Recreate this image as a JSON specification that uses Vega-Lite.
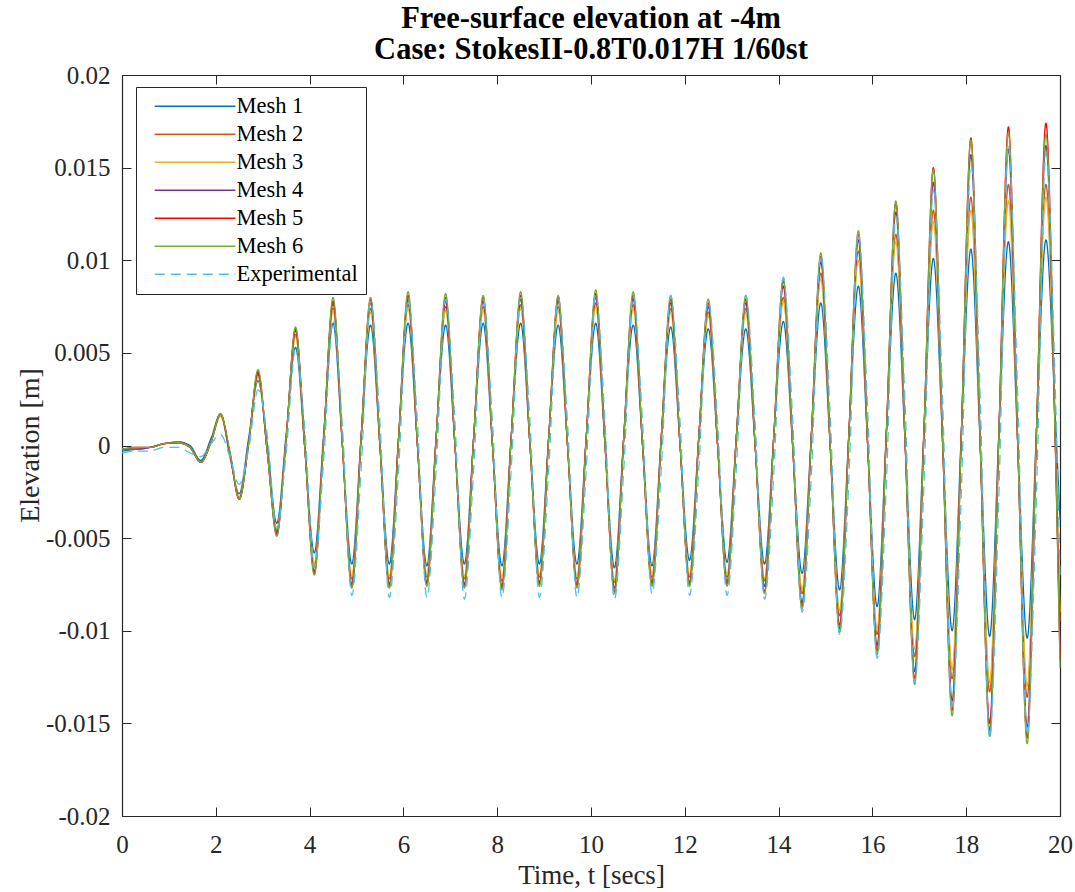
{
"$schema": "https://vega.github.io/schema/vega-lite/v6.json",
"width": 938, "height": 741,
"autosize": {"type": "none"},
"padding": {"left": 122, "top": 75, "right": 15, "bottom": 76},
"background": "white",
"config": {"view": {"stroke": null}, "font": "Liberation Serif"},
"title": {"text": ["Free-surface elevation at -4m", "Case: StokesII-0.8T0.017H 1/60st"], "font": "Liberation Serif", "fontSize": 30.5, "fontWeight": "bold", "anchor": "middle", "color": "black", "lineHeight": 31, "offset": -2},
"data": {"values": [
{"t":0,"Mesh 1":-0.0003,"Mesh 2":-0.0002,"Mesh 3":-0.0002,"Mesh 4":-0.0002,"Mesh 5":-0.0002,"Mesh 6":-0.0002,"Experimental":-0.0004},
{"t":0.3,"Mesh 1":-0.0002,"Mesh 2":-0.0002,"Mesh 3":-0.0002,"Mesh 4":-0.0002,"Mesh 5":-0.0001,"Mesh 6":-0.0001,"Experimental":-0.0003},
{"t":0.6,"Mesh 1":-0.0001,"Mesh 2":-0.0001,"Mesh 3":-0.0001,"Mesh 4":-0.0001,"Mesh 5":-0.0001,"Mesh 6":-0.0001,"Experimental":-0.0003},
{"t":0.9,"Mesh 1":0.0001,"Mesh 2":0.0001,"Mesh 3":0.0001,"Mesh 4":0.0001,"Mesh 5":0.0001,"Mesh 6":0.0001,"Experimental":-0.0001},
{"t":1.2,"Mesh 1":0.0002,"Mesh 2":0.00015,"Mesh 3":0.00015,"Mesh 4":0.00015,"Mesh 5":0.00015,"Mesh 6":0.00015,"Experimental":-0.0001},
{"t":1.45,"Mesh 1":0.0,"Mesh 2":-0.0001,"Mesh 3":-0.0001,"Mesh 4":-0.0001,"Mesh 5":-0.0001,"Mesh 6":-0.0001,"Experimental":-0.0004},
{"t":1.68,"Mesh 1":-0.0008,"Mesh 2":-0.0009,"Mesh 3":-0.0009,"Mesh 4":-0.0009,"Mesh 5":-0.0009,"Mesh 6":-0.0009,"Experimental":-0.0006},
{"t":1.9,"Mesh 1":0.0004,"Mesh 2":0.0002,"Mesh 3":0.0002,"Mesh 4":0.0002,"Mesh 5":0.0002,"Mesh 6":0.0002,"Experimental":0.0001},
{"t":2.1,"Mesh 1":0.0017,"Mesh 2":0.0016,"Mesh 3":0.0016,"Mesh 4":0.0017,"Mesh 5":0.0017,"Mesh 6":0.0017,"Experimental":0.0006},
{"t":2.3,"Mesh 1":-0.0006,"Mesh 2":-0.0004,"Mesh 3":-0.0004,"Mesh 4":-0.0004,"Mesh 5":-0.0004,"Mesh 6":-0.0003,"Experimental":-0.0006},
{"t":2.5,"Mesh 1":-0.0026,"Mesh 2":-0.0028,"Mesh 3":-0.0028,"Mesh 4":-0.0029,"Mesh 5":-0.0029,"Mesh 6":-0.0029,"Experimental":-0.0021},
{"t":2.7,"Mesh 1":0.0004,"Mesh 2":0.0001,"Mesh 3":0.0001,"Mesh 4":0.0001,"Mesh 5":0.0001,"Mesh 6":0.0001,"Experimental":-0.0002},
{"t":2.9,"Mesh 1":0.0035,"Mesh 2":0.0038,"Mesh 3":0.0037,"Mesh 4":0.0039,"Mesh 5":0.004,"Mesh 6":0.0041,"Experimental":0.003},
{"t":3.1,"Mesh 1":0.0,"Mesh 2":-0.0004,"Mesh 3":-0.0004,"Mesh 4":-0.0004,"Mesh 5":-0.0004,"Mesh 6":-0.0004,"Experimental":0.0005},
{"t":3.3,"Mesh 1":-0.0042,"Mesh 2":-0.0046,"Mesh 3":-0.0045,"Mesh 4":-0.0047,"Mesh 5":-0.0048,"Mesh 6":-0.0049,"Experimental":-0.0045},
{"t":3.5,"Mesh 1":0.0006,"Mesh 2":0.0004,"Mesh 3":0.0004,"Mesh 4":0.0004,"Mesh 5":0.0004,"Mesh 6":0.0004,"Experimental":-0.0004},
{"t":3.7,"Mesh 1":0.0053,"Mesh 2":0.006,"Mesh 3":0.0059,"Mesh 4":0.0062,"Mesh 5":0.0063,"Mesh 6":0.0064,"Experimental":0.0052},
{"t":3.9,"Mesh 1":-0.0002,"Mesh 2":-0.0002,"Mesh 3":-0.0002,"Mesh 4":-0.0002,"Mesh 5":-0.0002,"Mesh 6":-0.0002,"Experimental":0.0008},
{"t":4.1,"Mesh 1":-0.0058,"Mesh 2":-0.0065,"Mesh 3":-0.0064,"Mesh 4":-0.0068,"Mesh 5":-0.0069,"Mesh 6":-0.007,"Experimental":-0.0066},
{"t":4.3,"Mesh 1":0.0006,"Mesh 2":0.0004,"Mesh 3":0.0004,"Mesh 4":0.0004,"Mesh 5":0.0004,"Mesh 6":0.0004,"Experimental":-0.0008},
{"t":4.5,"Mesh 1":0.0066,"Mesh 2":0.0074,"Mesh 3":0.0073,"Mesh 4":0.0077,"Mesh 5":0.0078,"Mesh 6":0.008,"Experimental":0.0068},
{"t":4.7,"Mesh 1":0.0,"Mesh 2":0.0,"Mesh 3":0.0,"Mesh 4":0.0,"Mesh 5":0.0,"Mesh 6":0.0,"Experimental":0.001},
{"t":4.9,"Mesh 1":-0.0064,"Mesh 2":-0.0072,"Mesh 3":-0.0071,"Mesh 4":-0.0075,"Mesh 5":-0.0076,"Mesh 6":-0.0077,"Experimental":-0.0081},
{"t":5.1,"Mesh 1":0.0005,"Mesh 2":0.0005,"Mesh 3":0.0005,"Mesh 4":0.0005,"Mesh 5":0.0005,"Mesh 6":0.0005,"Experimental":-0.0012},
{"t":5.3,"Mesh 1":0.0065,"Mesh 2":0.0074,"Mesh 3":0.0072,"Mesh 4":0.0077,"Mesh 5":0.0079,"Mesh 6":0.008,"Experimental":0.0078},
{"t":5.5,"Mesh 1":0.0,"Mesh 2":0.0,"Mesh 3":0.0,"Mesh 4":0.0,"Mesh 5":0.0,"Mesh 6":0.0,"Experimental":0.0012},
{"t":5.7,"Mesh 1":-0.0064,"Mesh 2":-0.0072,"Mesh 3":-0.0071,"Mesh 4":-0.0075,"Mesh 5":-0.0076,"Mesh 6":-0.0077,"Experimental":-0.0082},
{"t":5.9,"Mesh 1":0.0005,"Mesh 2":0.0005,"Mesh 3":0.0005,"Mesh 4":0.0005,"Mesh 5":0.0005,"Mesh 6":0.0005,"Experimental":-0.0012},
{"t":6.1,"Mesh 1":0.0066,"Mesh 2":0.0076,"Mesh 3":0.0074,"Mesh 4":0.0079,"Mesh 5":0.0081,"Mesh 6":0.0083,"Experimental":0.0079},
{"t":6.3,"Mesh 1":0.0,"Mesh 2":0.0,"Mesh 3":0.0,"Mesh 4":0.0,"Mesh 5":0.0,"Mesh 6":0.0,"Experimental":0.0012},
{"t":6.5,"Mesh 1":-0.0065,"Mesh 2":-0.0071,"Mesh 3":-0.007,"Mesh 4":-0.0074,"Mesh 5":-0.0075,"Mesh 6":-0.0076,"Experimental":-0.0082},
{"t":6.7,"Mesh 1":0.0005,"Mesh 2":0.0005,"Mesh 3":0.0005,"Mesh 4":0.0005,"Mesh 5":0.0005,"Mesh 6":0.0005,"Experimental":-0.0012},
{"t":6.9,"Mesh 1":0.0065,"Mesh 2":0.0075,"Mesh 3":0.0073,"Mesh 4":0.0078,"Mesh 5":0.008,"Mesh 6":0.0082,"Experimental":0.0079},
{"t":7.1,"Mesh 1":0.0,"Mesh 2":0.0,"Mesh 3":0.0,"Mesh 4":0.0,"Mesh 5":0.0,"Mesh 6":0.0,"Experimental":0.0012},
{"t":7.3,"Mesh 1":-0.0064,"Mesh 2":-0.0072,"Mesh 3":-0.0071,"Mesh 4":-0.0075,"Mesh 5":-0.0076,"Mesh 6":-0.0077,"Experimental":-0.0083},
{"t":7.5,"Mesh 1":0.0005,"Mesh 2":0.0005,"Mesh 3":0.0005,"Mesh 4":0.0005,"Mesh 5":0.0005,"Mesh 6":0.0005,"Experimental":-0.0012},
{"t":7.7,"Mesh 1":0.0066,"Mesh 2":0.0075,"Mesh 3":0.0073,"Mesh 4":0.0078,"Mesh 5":0.008,"Mesh 6":0.0081,"Experimental":0.0079},
{"t":7.9,"Mesh 1":0.0,"Mesh 2":0.0,"Mesh 3":0.0,"Mesh 4":0.0,"Mesh 5":0.0,"Mesh 6":0.0,"Experimental":0.0012},
{"t":8.1,"Mesh 1":-0.0065,"Mesh 2":-0.0073,"Mesh 3":-0.0072,"Mesh 4":-0.0076,"Mesh 5":-0.0077,"Mesh 6":-0.0078,"Experimental":-0.0082},
{"t":8.3,"Mesh 1":0.0005,"Mesh 2":0.0005,"Mesh 3":0.0005,"Mesh 4":0.0005,"Mesh 5":0.0005,"Mesh 6":0.0005,"Experimental":-0.0012},
{"t":8.5,"Mesh 1":0.0066,"Mesh 2":0.0076,"Mesh 3":0.0074,"Mesh 4":0.0079,"Mesh 5":0.0081,"Mesh 6":0.0083,"Experimental":0.008},
{"t":8.7,"Mesh 1":0.0,"Mesh 2":0.0,"Mesh 3":0.0,"Mesh 4":0.0,"Mesh 5":0.0,"Mesh 6":0.0,"Experimental":0.0012},
{"t":8.9,"Mesh 1":-0.0064,"Mesh 2":-0.0071,"Mesh 3":-0.007,"Mesh 4":-0.0074,"Mesh 5":-0.0075,"Mesh 6":-0.0076,"Experimental":-0.0082},
{"t":9.1,"Mesh 1":0.0005,"Mesh 2":0.0005,"Mesh 3":0.0005,"Mesh 4":0.0005,"Mesh 5":0.0005,"Mesh 6":0.0005,"Experimental":-0.0012},
{"t":9.3,"Mesh 1":0.0065,"Mesh 2":0.0075,"Mesh 3":0.0073,"Mesh 4":0.0078,"Mesh 5":0.008,"Mesh 6":0.0081,"Experimental":0.0079},
{"t":9.5,"Mesh 1":0.0,"Mesh 2":0.0,"Mesh 3":0.0,"Mesh 4":0.0,"Mesh 5":0.0,"Mesh 6":0.0,"Experimental":0.0012},
{"t":9.7,"Mesh 1":-0.0064,"Mesh 2":-0.0072,"Mesh 3":-0.0071,"Mesh 4":-0.0075,"Mesh 5":-0.0076,"Mesh 6":-0.0077,"Experimental":-0.0082},
{"t":9.9,"Mesh 1":0.0005,"Mesh 2":0.0005,"Mesh 3":0.0005,"Mesh 4":0.0005,"Mesh 5":0.0005,"Mesh 6":0.0005,"Experimental":-0.0012},
{"t":10.1,"Mesh 1":0.0066,"Mesh 2":0.0077,"Mesh 3":0.0075,"Mesh 4":0.008,"Mesh 5":0.0082,"Mesh 6":0.0084,"Experimental":0.0082},
{"t":10.3,"Mesh 1":0.0,"Mesh 2":0.0,"Mesh 3":0.0,"Mesh 4":0.0,"Mesh 5":0.0,"Mesh 6":0.0,"Experimental":0.0012},
{"t":10.5,"Mesh 1":-0.0066,"Mesh 2":-0.0074,"Mesh 3":-0.0073,"Mesh 4":-0.0077,"Mesh 5":-0.0079,"Mesh 6":-0.008,"Experimental":-0.0083},
{"t":10.7,"Mesh 1":0.0005,"Mesh 2":0.0005,"Mesh 3":0.0005,"Mesh 4":0.0005,"Mesh 5":0.0005,"Mesh 6":0.0005,"Experimental":-0.0012},
{"t":10.9,"Mesh 1":0.0065,"Mesh 2":0.0076,"Mesh 3":0.0074,"Mesh 4":0.0079,"Mesh 5":0.0081,"Mesh 6":0.0083,"Experimental":0.0081},
{"t":11.1,"Mesh 1":0.0,"Mesh 2":0.0,"Mesh 3":0.0,"Mesh 4":0.0,"Mesh 5":0.0,"Mesh 6":0.0,"Experimental":0.0012},
{"t":11.3,"Mesh 1":-0.0065,"Mesh 2":-0.0071,"Mesh 3":-0.007,"Mesh 4":-0.0074,"Mesh 5":-0.0075,"Mesh 6":-0.0076,"Experimental":-0.008},
{"t":11.5,"Mesh 1":0.0005,"Mesh 2":0.0005,"Mesh 3":0.0005,"Mesh 4":0.0005,"Mesh 5":0.0005,"Mesh 6":0.0005,"Experimental":-0.0012},
{"t":11.7,"Mesh 1":0.0064,"Mesh 2":0.0074,"Mesh 3":0.0072,"Mesh 4":0.0077,"Mesh 5":0.0079,"Mesh 6":0.0081,"Experimental":0.0081},
{"t":11.9,"Mesh 1":0.0,"Mesh 2":0.0,"Mesh 3":0.0,"Mesh 4":0.0,"Mesh 5":0.0,"Mesh 6":0.0,"Experimental":0.0012},
{"t":12.1,"Mesh 1":-0.0062,"Mesh 2":-0.0071,"Mesh 3":-0.007,"Mesh 4":-0.0074,"Mesh 5":-0.0075,"Mesh 6":-0.0076,"Experimental":-0.0081},
{"t":12.3,"Mesh 1":0.0005,"Mesh 2":0.0005,"Mesh 3":0.0005,"Mesh 4":0.0005,"Mesh 5":0.0005,"Mesh 6":0.0005,"Experimental":-0.0012},
{"t":12.5,"Mesh 1":0.0063,"Mesh 2":0.0072,"Mesh 3":0.007,"Mesh 4":0.0075,"Mesh 5":0.0077,"Mesh 6":0.0079,"Experimental":0.0079},
{"t":12.7,"Mesh 1":0.0,"Mesh 2":0.0,"Mesh 3":0.0,"Mesh 4":0.0,"Mesh 5":0.0,"Mesh 6":0.0,"Experimental":0.0012},
{"t":12.9,"Mesh 1":-0.0063,"Mesh 2":-0.0071,"Mesh 3":-0.007,"Mesh 4":-0.0074,"Mesh 5":-0.0075,"Mesh 6":-0.0076,"Experimental":-0.0081},
{"t":13.1,"Mesh 1":0.0005,"Mesh 2":0.0005,"Mesh 3":0.0005,"Mesh 4":0.0005,"Mesh 5":0.0005,"Mesh 6":0.0005,"Experimental":-0.0012},
{"t":13.3,"Mesh 1":0.0063,"Mesh 2":0.0074,"Mesh 3":0.0072,"Mesh 4":0.0077,"Mesh 5":0.0079,"Mesh 6":0.0081,"Experimental":0.0081},
{"t":13.5,"Mesh 1":0.0,"Mesh 2":0.0,"Mesh 3":0.0,"Mesh 4":0.0,"Mesh 5":0.0,"Mesh 6":0.0,"Experimental":0.0012},
{"t":13.7,"Mesh 1":-0.0064,"Mesh 2":-0.0073,"Mesh 3":-0.0072,"Mesh 4":-0.0076,"Mesh 5":-0.0079,"Mesh 6":-0.008,"Experimental":-0.0083},
{"t":13.9,"Mesh 1":0.0006,"Mesh 2":0.0006,"Mesh 3":0.0006,"Mesh 4":0.0006,"Mesh 5":0.0006,"Mesh 6":0.0006,"Experimental":-0.0014},
{"t":14.1,"Mesh 1":0.0067,"Mesh 2":0.008,"Mesh 3":0.0078,"Mesh 4":0.0086,"Mesh 5":0.0089,"Mesh 6":0.009,"Experimental":0.0091},
{"t":14.3,"Mesh 1":0.0,"Mesh 2":0.0,"Mesh 3":0.0,"Mesh 4":0.0,"Mesh 5":0.0,"Mesh 6":0.0,"Experimental":0.0014},
{"t":14.5,"Mesh 1":-0.0069,"Mesh 2":-0.008,"Mesh 3":-0.0078,"Mesh 4":-0.0085,"Mesh 5":-0.0087,"Mesh 6":-0.0088,"Experimental":-0.009},
{"t":14.7,"Mesh 1":0.0006,"Mesh 2":0.0006,"Mesh 3":0.0006,"Mesh 4":0.0006,"Mesh 5":0.0006,"Mesh 6":0.0006,"Experimental":-0.0015},
{"t":14.9,"Mesh 1":0.0077,"Mesh 2":0.0093,"Mesh 3":0.009,"Mesh 4":0.0099,"Mesh 5":0.0102,"Mesh 6":0.0104,"Experimental":0.0103},
{"t":15.1,"Mesh 1":0.0,"Mesh 2":0.0,"Mesh 3":0.0,"Mesh 4":0.0,"Mesh 5":0.0,"Mesh 6":0.0,"Experimental":0.0016},
{"t":15.3,"Mesh 1":-0.0078,"Mesh 2":-0.0092,"Mesh 3":-0.0089,"Mesh 4":-0.0097,"Mesh 5":-0.0099,"Mesh 6":-0.0101,"Experimental":-0.0102},
{"t":15.5,"Mesh 1":0.0007,"Mesh 2":0.0007,"Mesh 3":0.0007,"Mesh 4":0.0007,"Mesh 5":0.0007,"Mesh 6":0.0007,"Experimental":-0.0017},
{"t":15.7,"Mesh 1":0.0086,"Mesh 2":0.0105,"Mesh 3":0.01,"Mesh 4":0.0111,"Mesh 5":0.0114,"Mesh 6":0.0116,"Experimental":0.0115},
{"t":15.9,"Mesh 1":0.0,"Mesh 2":0.0,"Mesh 3":0.0,"Mesh 4":0.0,"Mesh 5":0.0,"Mesh 6":0.0,"Experimental":0.0018},
{"t":16.1,"Mesh 1":-0.0087,"Mesh 2":-0.0102,"Mesh 3":-0.0099,"Mesh 4":-0.0108,"Mesh 5":-0.0111,"Mesh 6":-0.0113,"Experimental":-0.0115},
{"t":16.3,"Mesh 1":0.0008,"Mesh 2":0.0008,"Mesh 3":0.0008,"Mesh 4":0.0008,"Mesh 5":0.0008,"Mesh 6":0.0008,"Experimental":-0.0019},
{"t":16.5,"Mesh 1":0.0093,"Mesh 2":0.0114,"Mesh 3":0.011,"Mesh 4":0.0126,"Mesh 5":0.0131,"Mesh 6":0.0132,"Experimental":0.0124},
{"t":16.7,"Mesh 1":0.0,"Mesh 2":0.0,"Mesh 3":0.0,"Mesh 4":0.0,"Mesh 5":0.0,"Mesh 6":0.0,"Experimental":0.002},
{"t":16.9,"Mesh 1":-0.0094,"Mesh 2":-0.0114,"Mesh 3":-0.011,"Mesh 4":-0.0122,"Mesh 5":-0.0126,"Mesh 6":-0.0129,"Experimental":-0.0128},
{"t":17.1,"Mesh 1":0.0008,"Mesh 2":0.0008,"Mesh 3":0.0008,"Mesh 4":0.0008,"Mesh 5":0.0008,"Mesh 6":0.0008,"Experimental":-0.002},
{"t":17.3,"Mesh 1":0.0101,"Mesh 2":0.0127,"Mesh 3":0.0121,"Mesh 4":0.0142,"Mesh 5":0.015,"Mesh 6":0.0149,"Experimental":0.0138},
{"t":17.5,"Mesh 1":0.0,"Mesh 2":0.0,"Mesh 3":0.0,"Mesh 4":0.0,"Mesh 5":0.0,"Mesh 6":0.0,"Experimental":0.0022},
{"t":17.7,"Mesh 1":-0.01,"Mesh 2":-0.0126,"Mesh 3":-0.0121,"Mesh 4":-0.0138,"Mesh 5":-0.0143,"Mesh 6":-0.0146,"Experimental":-0.0143},
{"t":17.9,"Mesh 1":0.0009,"Mesh 2":0.0009,"Mesh 3":0.0009,"Mesh 4":0.0009,"Mesh 5":0.0009,"Mesh 6":0.0009,"Experimental":-0.0022},
{"t":18.1,"Mesh 1":0.0106,"Mesh 2":0.0134,"Mesh 3":0.0127,"Mesh 4":0.0157,"Mesh 5":0.0166,"Mesh 6":0.0165,"Experimental":0.0152},
{"t":18.3,"Mesh 1":0.0,"Mesh 2":0.0,"Mesh 3":0.0,"Mesh 4":0.0,"Mesh 5":0.0,"Mesh 6":0.0,"Experimental":0.0024},
{"t":18.5,"Mesh 1":-0.0103,"Mesh 2":-0.0133,"Mesh 3":-0.0128,"Mesh 4":-0.015,"Mesh 5":-0.0154,"Mesh 6":-0.0157,"Experimental":-0.0158},
{"t":18.7,"Mesh 1":0.0009,"Mesh 2":0.0009,"Mesh 3":0.0009,"Mesh 4":0.0009,"Mesh 5":0.0009,"Mesh 6":0.0009,"Experimental":-0.0024},
{"t":18.9,"Mesh 1":0.011,"Mesh 2":0.0141,"Mesh 3":0.0132,"Mesh 4":0.016,"Mesh 5":0.0172,"Mesh 6":0.0169,"Experimental":0.0162},
{"t":19.1,"Mesh 1":0.0,"Mesh 2":0.0,"Mesh 3":0.0,"Mesh 4":0.0,"Mesh 5":0.0,"Mesh 6":0.0,"Experimental":0.0025},
{"t":19.3,"Mesh 1":-0.0104,"Mesh 2":-0.0136,"Mesh 3":-0.013,"Mesh 4":-0.0152,"Mesh 5":-0.0158,"Mesh 6":-0.0161,"Experimental":-0.0156},
{"t":19.5,"Mesh 1":0.0009,"Mesh 2":0.0009,"Mesh 3":0.0009,"Mesh 4":0.0009,"Mesh 5":0.0009,"Mesh 6":0.0009,"Experimental":-0.0025},
{"t":19.7,"Mesh 1":0.0111,"Mesh 2":0.0141,"Mesh 3":0.0134,"Mesh 4":0.0162,"Mesh 5":0.0174,"Mesh 6":0.0168,"Experimental":0.0158},
{"t":19.9,"Mesh 1":0.0015,"Mesh 2":0.0005,"Mesh 3":0.0005,"Mesh 4":0.0002,"Mesh 5":0.0,"Mesh 6":0.0,"Experimental":0.003},
{"t":20,"Mesh 1":-0.004,"Mesh 2":-0.0095,"Mesh 3":-0.009,"Mesh 4":-0.011,"Mesh 5":-0.0115,"Mesh 6":-0.012,"Experimental":-0.007}
]},
"transform": [{"fold": ["Mesh 1", "Mesh 2", "Mesh 3", "Mesh 4", "Mesh 5", "Mesh 6", "Experimental"], "as": ["series", "elev"]}],
"layer": [
{
"mark": {"type": "line", "interpolate": "monotone", "strokeWidth": 1.3},
"encoding": {
"x": {"field": "t", "type": "quantitative", "scale": {"domain": [0, 20], "nice": false},
"axis": {"orient": "bottom", "values": [0,2,4,6,8,10,12,14,16,18,20], "format": "d", "title": "Time, t [secs]", "titleFont": "Liberation Serif", "titleFontSize": 27, "titleFontWeight": "normal", "titleColor": "#262626", "titleX": 469, "titleY": 59, "titleBaseline": "middle", "labelFont": "Liberation Serif", "labelFontSize": 25, "labelColor": "#262626", "labelPadding": 25, "tickSize": -9, "tickColor": "#262626", "tickWidth": 1, "domainColor": "#262626", "domainWidth": 1.2, "grid": false, "labelFlush": false}},
"y": {"field": "elev", "type": "quantitative", "scale": {"domain": [-0.02, 0.02], "nice": false},
"axis": {"orient": "left", "values": [-0.02,-0.015,-0.01,-0.005,0,0.005,0.01,0.015,0.02], "format": "~g", "labelExpr": "replace(datum.label, '\u2212', '-')", "title": "Elevation [m]", "titleFont": "Liberation Serif", "titleFontSize": 28, "titleFontWeight": "normal", "titleColor": "#262626", "titleX": -92, "titleY": 370, "titleAngle": -90, "titleBaseline": "middle", "titleAlign": "center", "labelFont": "Liberation Serif", "labelFontSize": 25, "labelColor": "#262626", "labelPadding": 21, "tickSize": -9, "tickColor": "#262626", "tickWidth": 1, "domainColor": "#262626", "domainWidth": 1.2, "grid": false, "labelFlush": false}},
"color": {"field": "series", "type": "nominal",
"scale": {"domain": ["Mesh 1", "Mesh 2", "Mesh 3", "Mesh 4", "Mesh 5", "Mesh 6", "Experimental"], "range": ["#0072BD", "#D95319", "#EDB120", "#7E2F8E", "#FF0000", "#77AC30", "#4DBEEE"]},
"legend": {"title": null, "orient": "none", "legendX": 14, "legendY": 12, "symbolType": "M-0.9,0H7.6", "symbolSize": 361, "symbolStrokeWidth": 1.5, "labelFont": "Liberation Serif", "labelFontSize": 22.5, "labelColor": "black", "strokeColor": "#262626", "fillColor": "white", "padding": 8, "rowPadding": 5, "symbolOffset": 8, "labelOffset": 62, "labelLimit": 300}},
"strokeDash": {"field": "series", "type": "nominal",
"scale": {"domain": ["Mesh 1", "Mesh 2", "Mesh 3", "Mesh 4", "Mesh 5", "Mesh 6", "Experimental"], "range": [[1,0],[1,0],[1,0],[1,0],[1,0],[1,0],[10,6]]},
"legend": {"title": null, "orient": "none", "legendX": 14, "legendY": 12, "symbolType": "M-0.9,0H7.6", "symbolSize": 361, "symbolStrokeWidth": 1.5, "labelFont": "Liberation Serif", "labelFontSize": 22.5, "labelColor": "black", "strokeColor": "#262626", "fillColor": "white", "padding": 8, "rowPadding": 5, "symbolOffset": 8, "labelOffset": 62, "labelLimit": 300}}
}
},
{
"mark": {"type": "point", "opacity": 0},
"encoding": {
"x": {"field": "t", "type": "quantitative", "axis": {"orient": "top", "values": [0,2,4,6,8,10,12,14,16,18,20], "labels": false, "title": null, "tickSize": -9, "tickColor": "#262626", "domainColor": "#262626", "domainWidth": 1.2, "grid": false}},
"y": {"field": "elev", "type": "quantitative", "axis": {"orient": "right", "values": [-0.02,-0.015,-0.01,-0.005,0,0.005,0.01,0.015,0.02], "labels": false, "title": null, "tickSize": -9, "tickColor": "#262626", "domainColor": "#262626", "domainWidth": 1.2, "grid": false}}
}
}
],
"resolve": {"axis": {"x": "independent", "y": "independent"}}
}
